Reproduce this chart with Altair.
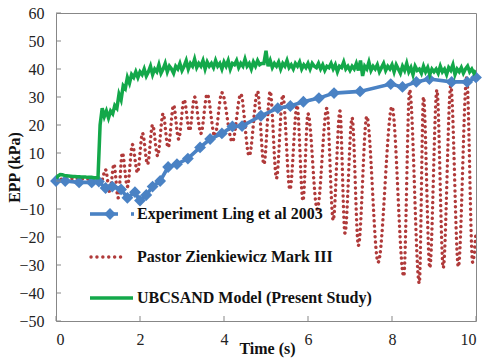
import altair as alt
import pandas as pd

# Experiment (Ling et al 2003): measured excess pore pressure
exp_t = [0.0, 0.22, 0.55, 0.85, 1.02, 1.18, 1.34, 1.55, 1.70, 1.88, 2.00, 2.15, 2.30,
         2.48, 2.67, 2.88, 3.14, 3.43, 3.67, 3.95, 4.20, 4.43, 4.88, 5.28, 5.58, 5.89,
         6.26, 6.62, 7.24, 7.97, 8.25, 8.58, 8.89, 9.42, 9.79, 10.0]
exp_v = [0.0, 0.0, -0.5, -0.5, -0.2, -2.5, -2.0, -3.0, -6.0, -4.0, -7.0, -5.0, -2.0,
         0.0, 5.0, 6.0, 8.0, 12.0, 15.0, 17.0, 19.5, 19.6, 23.3, 26.0, 26.8, 28.3,
         29.6, 31.4, 32.0, 34.6, 33.6, 35.4, 36.4, 35.4, 35.4, 37.0]

# Pastor Zienkiewicz Mark III: turning points of the cyclic response
pz_t = [0.0, 0.5, 1.0, 1.08, 1.18, 1.28, 1.38, 1.48, 1.58, 1.70, 1.82, 1.94, 2.06,
        2.18, 2.30, 2.42, 2.55, 2.67, 2.80, 2.92, 3.05, 3.18, 3.30, 3.45, 3.60, 3.78,
        3.95, 4.20, 4.40, 4.60, 4.80, 4.95, 5.10, 5.25, 5.40, 5.57, 5.74, 5.88, 6.00,
        6.22, 6.45, 6.60, 6.76, 6.88, 7.05, 7.20, 7.40, 7.67, 8.00, 8.28, 8.42, 8.65,
        8.75, 8.90, 9.07, 9.22, 9.40, 9.58, 9.78, 9.92, 10.0]
pz_v = [0.5, 0.8, 0.5, 0.0, 4.0, -4.0, 6.0, -6.0, 10.0, -2.0, 13.0, 3.0, 17.0,
        6.0, 20.0, 9.0, 24.0, 12.0, 27.0, 15.0, 29.0, 18.0, 30.0, 17.0, 31.0, 16.0,
        31.5, 14.0, 31.0, 9.0, 32.0, 6.0, 32.0, 1.0, 30.7, -3.0, 27.0, -7.0, 24.0,
        -10.0, 26.0, -14.0, 25.0, -18.6, 22.5, -23.0, 23.0, -29.0, 26.5, -34.0, 32.5, -36.5,
        30.0, -31.0, 32.5, -31.0, 34.0, -30.6, 37.0, -29.0, -18.0]

# UBCSAND model (present study), sampled every 0.05 s from t = 0
ubc_dt = 0.05
ubc_v = [
    1.0, 1.8, 2.3, 2.2, 2.0, 1.9, 1.8, 1.7, 1.6, 1.6, 1.5, 1.5, 1.4, 1.4, 1.4, 1.3, 1.3, 1.3, 1.2, 1.2, 1.2,
    20.0, 26.0, 23.0, 25.0, 22.5, 25.0, 24.0, 27.0, 26.0, 31.0, 29.0, 34.0, 33.0, 37.0, 35.0, 38.0, 37.0, 39.0, 37.0, 39.0,
    38.0, 40.0, 37.5, 39.0, 41.0, 38.0, 40.0, 39.0, 41.5, 38.5, 40.0, 42.0, 39.0, 41.0, 40.0, 38.5, 41.0, 40.0, 42.0, 39.5,
    41.0, 43.0, 40.0, 42.0, 41.0, 43.5, 40.5, 42.0, 41.0, 43.0, 40.0, 42.5, 41.0, 42.0, 40.5, 43.0, 41.0, 42.0, 40.0, 42.5,
    41.0, 43.0, 40.0, 42.0, 41.5, 43.0, 40.5, 42.0, 41.0, 43.5, 41.0, 42.0, 40.0, 42.5, 41.0, 43.0, 41.5, 42.0, 42.0, 46.5,
    41.0, 43.0, 40.5, 42.0, 41.0, 42.5, 40.0, 42.0, 41.0, 43.0, 40.5, 41.5, 40.0, 42.0, 41.0, 42.5, 40.0, 41.5, 40.5, 42.0,
    40.0, 42.0, 41.0, 40.5, 42.0, 40.0, 41.5, 39.5, 41.0, 40.5, 42.0, 40.0, 41.5, 39.0, 41.0, 40.5, 42.5, 40.0, 41.0, 39.5,
    41.0, 40.0, 42.0, 39.5, 43.0, 37.5, 41.0, 40.0, 42.5, 39.5, 41.0, 40.0, 41.5, 39.0, 40.5, 42.0, 39.5, 41.0, 40.0, 41.5,
    39.0, 41.5, 40.0, 38.5, 41.0, 39.5, 42.0, 39.0, 40.5, 38.0, 41.0, 39.5, 40.0, 38.5, 41.0, 39.0, 40.5, 38.0, 40.0, 39.0,
    40.0, 38.5, 41.0, 39.0, 40.0, 38.0, 40.5, 39.5, 41.5, 38.0, 40.0, 39.0, 40.5, 38.5, 40.0, 41.0, 39.0, 40.0, 38.5, 39.5,
]

# Axis tick values
x_ticks = [0, 2, 4, 6, 8, 10]
y_ticks = [-50, -40, -30, -20, -10, 0, 10, 20, 30, 40, 50, 60]

legend_labels = ["Experiment Ling et al 2003",
                 "Pastor Zienkiewicz Mark III",
                 "UBCSAND Model (Present Study)"]

BLUE = "#4A82C4"
RED = "#B03A3A"
GREEN = "#13A84A"
FRAME = "#878787"
SERIF = "'Liberation Serif', 'Times New Roman', Times, serif"

exp_df = pd.DataFrame({"t": exp_t, "v": exp_v})
pz_df = pd.DataFrame({"t": pz_t, "v": pz_v})
ubc_df = pd.DataFrame({"t": [round(i * ubc_dt, 2) for i in range(len(ubc_v))], "v": ubc_v})
xt_df = pd.DataFrame({"t": x_ticks})
yt_df = pd.DataFrame({"v": y_ticks})
one = pd.DataFrame({"k": [0]})

xs = alt.Scale(domain=[0, 10], nice=False, zero=False)
ys = alt.Scale(domain=[-50, 60], nice=False, zero=False)

x_axis = alt.Axis(values=x_ticks, grid=False, domain=False, ticks=False,
                  labelFont=SERIF, labelFontSize=16, labelColor="#222222",
                  labelPadding=10, titleFont=SERIF, titleFontSize=16,
                  titleFontWeight="bold", titleColor="#111111",
                  titleX=211, titleY=32, titleBaseline="alphabetic",
                  titleAlign="center")
y_axis = alt.Axis(values=y_ticks, grid=False, domain=False, ticks=False,
                  labelFont=SERIF, labelFontSize=16, labelColor="#222222",
                  labelPadding=12, titleFont=SERIF, titleFontSize=16,
                  titleFontWeight="bold", titleColor="#111111",
                  titleX=-42, titleY=154, titleAngle=-90,
                  titleBaseline="middle", titleAlign="center")

X = alt.X("t:Q", scale=xs, axis=x_axis, title="Time (s)")
Y = alt.Y("v:Q", scale=ys, axis=y_axis, title="EPP (kPa)")

pz_line = alt.Chart(pz_df).mark_line(
    color=RED, strokeWidth=3.4, strokeDash=[0.1, 5.2], strokeCap="round",
    interpolate="monotone", clip=True
).encode(x=X, y=Y)

exp_line = alt.Chart(exp_df).mark_line(
    color=BLUE, strokeWidth=3.6, clip=True
).encode(x=X, y=Y)

exp_pts = alt.Chart(exp_df).mark_point(
    shape="diamond", filled=True, size=140, color=BLUE, opacity=1, clip=False
).encode(x=X, y=Y)

ubc_line = alt.Chart(ubc_df).mark_line(
    color=GREEN, strokeWidth=3.5, clip=True
).encode(x=X, y=Y)

# inward tick marks on the left and bottom frame
y_tick_marks = alt.Chart(yt_df).mark_rule(color=FRAME, strokeWidth=1).encode(
    y=Y, x=alt.value(0), x2=alt.value(5))
x_tick_marks = alt.Chart(xt_df).mark_rule(color=FRAME, strokeWidth=1).encode(
    x=X, y=alt.value(308), y2=alt.value(303))

# legend drawn inside the plot area
def legend_text(label, ypix):
    return alt.Chart(one).mark_text(
        text=label, font=SERIF, fontSize=16, fontWeight="bold", color="#111111",
        align="left", baseline="middle"
    ).encode(x=alt.value(81), y=alt.value(ypix))

leg_blue_line = alt.Chart(one).mark_rule(color=BLUE, strokeWidth=3.6).encode(
    x=alt.value(34), x2=alt.value(62), y=alt.value(201))
leg_blue_tail = alt.Chart(one).mark_rule(color=BLUE, strokeWidth=3.6).encode(
    x=alt.value(75), x2=alt.value(78), y=alt.value(201))
leg_blue_pt = alt.Chart(one).mark_point(
    shape="diamond", filled=True, size=140, color=BLUE, opacity=1
).encode(x=alt.value(54), y=alt.value(201))
leg_red = alt.Chart(one).mark_rule(
    color=RED, strokeWidth=3.4, strokeDash=[0.1, 5.8], strokeCap="round"
).encode(x=alt.value(35), x2=alt.value(70), y=alt.value(244))
leg_green = alt.Chart(one).mark_rule(color=GREEN, strokeWidth=3.6).encode(
    x=alt.value(34), x2=alt.value(77), y=alt.value(285))

chart = alt.layer(
    pz_line, exp_line, exp_pts, ubc_line, y_tick_marks, x_tick_marks,
    leg_blue_line, leg_blue_tail, leg_blue_pt, leg_red, leg_green,
    legend_text(legend_labels[0], 201),
    legend_text(legend_labels[1], 244),
    legend_text(legend_labels[2], 285),
).properties(
    width=420, height=308,
    padding={"left": 56, "top": 13, "right": 7, "bottom": 37},
    autosize=alt.AutoSizeParams(type="none"),
    background="white",
).configure_view(
    stroke=FRAME, strokeWidth=1
)

chart.save("out.html", embed_options={"renderer": "svg", "actions": False})
